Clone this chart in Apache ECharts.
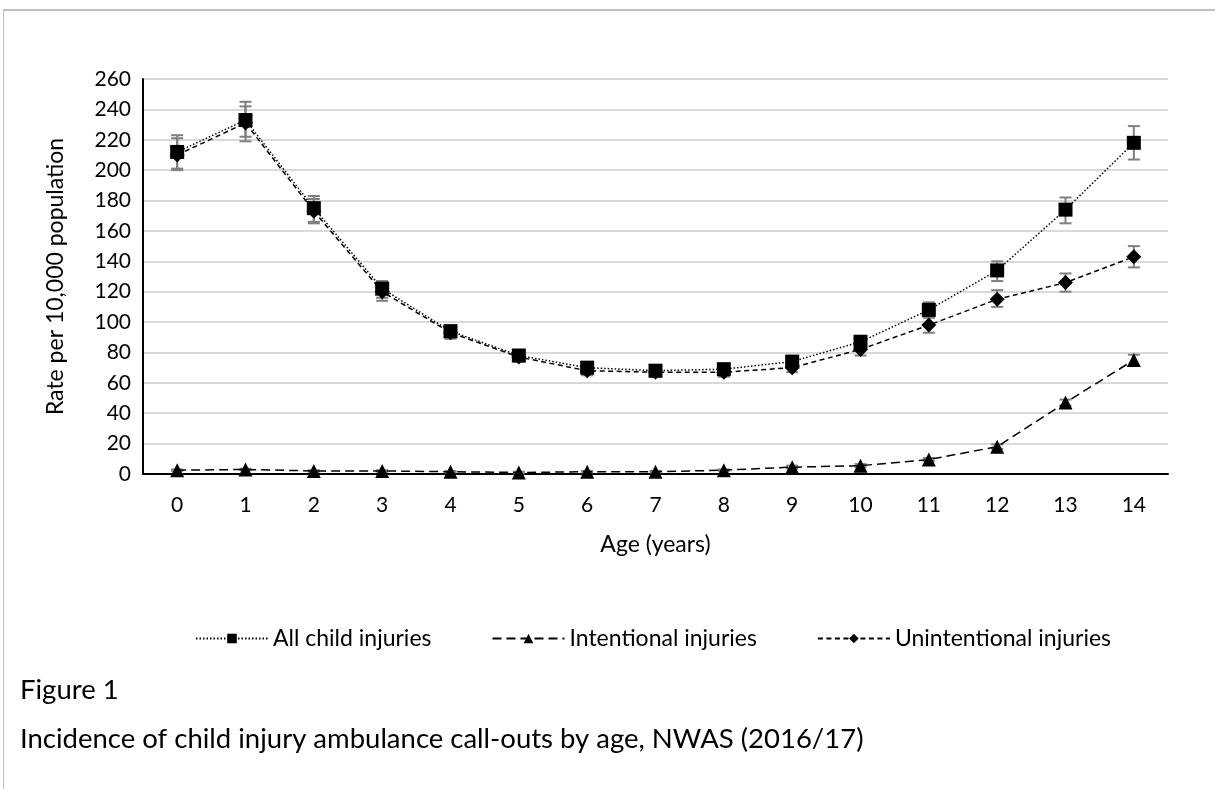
<!DOCTYPE html>
<html>
<head>
<meta charset="utf-8">
<script src="https://cdn.jsdelivr.net/npm/echarts@6/dist/echarts.min.js"></script>
<style>
  html, body { margin: 0; padding: 0; background: #fff; }
  #frame {
    position: absolute; left: 3px; top: 9px; width: 1212px; height: 780px;
    border-top: 2px solid #bfbfbf; border-left: 1px solid #bfbfbf;
  }
  #chart { position: absolute; left: 0; top: 0; width: 1215px; height: 789px; }
</style>
</head>
<body>
<div id="frame"></div>
<div id="chart"></div>
<script>
var ages = ['0', '1', '2', '3', '4', '5', '6', '7', '8', '9', '10', '11', '12', '13', '14']

// rate per 10,000
var allInjuries = [212, 233, 175, 122, 94, 78, 70, 68, 69, 74, 87, 108, 134, 174, 218]
var allLow = [201, 222, 166, 116, 90, 75, 67, 65, 66, 71, 83, 103, 127, 165, 207]
var allHigh = [223, 245, 183, 127, 98, 81, 73, 71, 72, 77, 91, 113, 140, 182, 229]

var intentional = [2.5, 3, 2, 2, 1.5, 1, 1.5, 1.5, 2.5, 4.5, 5.5, 9.5, 18, 47, 75]
var intLow = [2, 2.5, 1.5, 1.5, 1, 0.5, 1, 1, 2, 3.5, 4.5, 8.5, 16.5, 45, 71.5]
var intHigh = [3, 3.5, 2.5, 2.5, 2, 1.5, 2, 2, 3, 5.5, 6.5, 10.5, 19.5, 49, 78.5]

var unintentional = [210, 231, 173, 120, 93, 77, 68, 67, 67, 70, 82, 98, 115, 126, 143]
var unLow = [200, 219, 165, 114, 89, 74, 65, 64, 64, 67, 78, 93, 110, 120, 136]
var unHigh = [221, 242, 181, 126, 97, 80, 71, 70, 70, 73, 86, 103, 121, 132, 150]

var yTicks = { min: 0, max: 260, interval: 20 }

function errData(low, high) {
  return low.map(function (l, i) { return [i, l, high[i]] })
}

// gray error bars with caps, drawn under the markers
function errSeries(name, low, high) {
  return {
    name: name,
    type: 'custom',
    z: 1,
    silent: true,
    renderItem: function (params, api) {
      var x = api.value(0)
      var lo = api.coord([x, api.value(1)])
      var hi = api.coord([x, api.value(2)])
      var w = 6
      var st = { stroke: '#7f7f7f', lineWidth: 2 }
      return {
        type: 'group',
        children: [
          { type: 'line', shape: { x1: lo[0], y1: lo[1], x2: hi[0], y2: hi[1] }, style: st },
          { type: 'line', shape: { x1: lo[0] - w, y1: lo[1], x2: lo[0] + w, y2: lo[1] }, style: st },
          { type: 'line', shape: { x1: hi[0] - w, y1: hi[1], x2: hi[0] + w, y2: hi[1] }, style: st }
        ]
      }
    },
    data: errData(low, high)
  }
}

var chart = echarts.init(document.getElementById('chart'))
var font = 'Lato, "Open Sans", sans-serif'

chart.setOption({
  animation: false,
  textStyle: { fontFamily: font, color: '#000' },
  title: [
    { text: 'Figure 1', left: 15, top: 671, textStyle: { fontFamily: font, fontSize: 27.5, fontWeight: 'normal', color: '#000' } },
    { text: 'Incidence of child injury ambulance call-outs by age, NWAS (2016/17)', left: 15, top: 720, textStyle: { fontFamily: font, fontSize: 27.5, fontWeight: 'normal', color: '#000' } }
  ],
  legend: {
    top: 622,
    left: 190,
    itemWidth: 72,
    itemHeight: 12,
    itemGap: 60,
    textStyle: { fontFamily: font, fontSize: 23, color: '#000' },
    data: ['All child injuries', 'Intentional injuries', 'Unintentional injuries']
  },
  grid: { left: 143, right: 47, top: 79, bottom: 315 },
  xAxis: {
    type: 'category',
    data: ages,
    boundaryGap: true,
    name: 'Age (years)',
    nameLocation: 'middle',
    nameGap: 59,
    nameTextStyle: { fontFamily: font, fontSize: 23, color: '#000' },
    axisLine: { lineStyle: { color: '#000', width: 2 } },
    axisTick: { show: false },
    axisLabel: { fontSize: 21, color: '#000', margin: 21 }
  },
  yAxis: {
    type: 'value',
    min: yTicks.min,
    max: yTicks.max,
    interval: yTicks.interval,
    name: 'Rate per 10,000 population',
    nameLocation: 'middle',
    nameGap: 76,
    nameTextStyle: { fontFamily: font, fontSize: 23, color: '#000' },
    axisLine: { show: true, lineStyle: { color: '#000', width: 2 } },
    axisTick: { show: false },
    axisLabel: { fontSize: 21, color: '#000', margin: 12 },
    splitLine: { lineStyle: { color: '#d9d9d9', width: 2 } }
  },
  series: [
    errSeries('allErr', allLow, allHigh),
    errSeries('unErr', unLow, unHigh),
    errSeries('intErr', intLow, intHigh),
    {
      name: 'All child injuries',
      type: 'line',
      z: 3,
      data: allInjuries,
      symbol: 'rect',
      symbolSize: 14,
      itemStyle: { color: '#000' },
      lineStyle: { color: '#000', width: 1.5, type: [1.5, 2] }
    },
    {
      name: 'Intentional injuries',
      type: 'line',
      z: 3,
      data: intentional,
      symbol: 'triangle',
      symbolSize: 14,
      itemStyle: { color: '#000' },
      lineStyle: { color: '#000', width: 1.5, type: [9, 5] }
    },
    {
      name: 'Unintentional injuries',
      type: 'line',
      z: 3,
      data: unintentional,
      symbol: 'diamond',
      symbolSize: 15,
      itemStyle: { color: '#000' },
      lineStyle: { color: '#000', width: 1.5, type: [5, 3.5] }
    }
  ]
})
</script>
</body>
</html>
